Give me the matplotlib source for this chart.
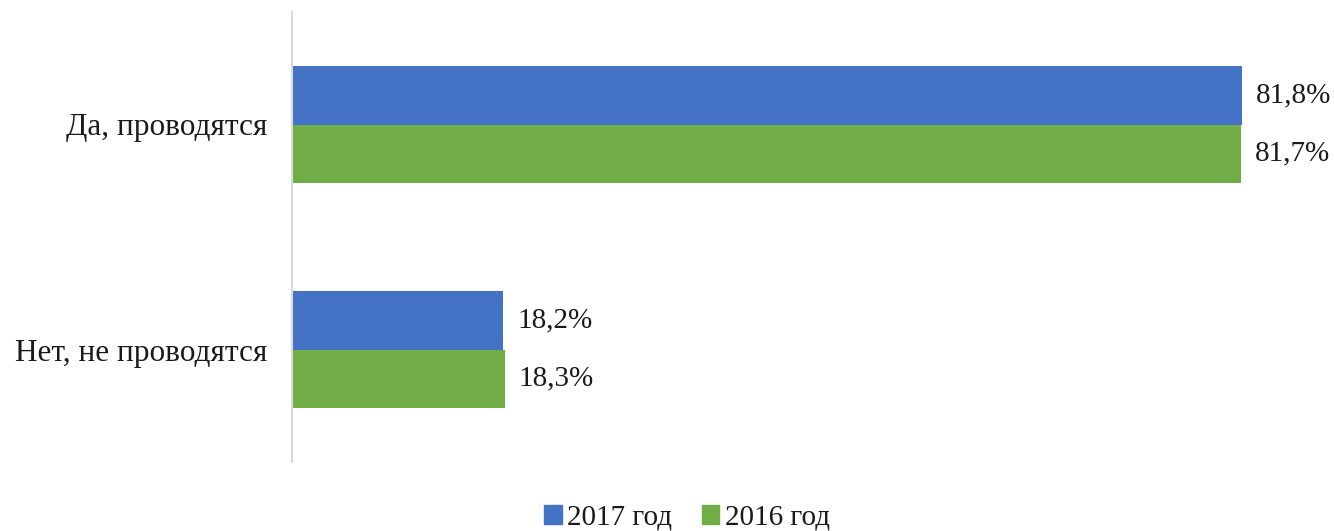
import matplotlib
matplotlib.use("Agg")
import matplotlib.pyplot as plt
import numpy as np
from matplotlib.patches import Patch

categories = ["Да, проводятся", "Нет, не проводятся"]
series_names = ["2017 год", "2016 год"]
values_2017 = [81.8, 18.2]
values_2016 = [81.7, 18.3]
labels_2017 = ["81,8%", "18,2%"]
labels_2016 = ["81,7%", "18,3%"]
colors = ["#4472C4", "#70AD47"]

plt.rcParams['font.family'] = ['Liberation Serif', 'DejaVu Serif']
FS = 21

fig = plt.figure(figsize=(13.34, 5.31), dpi=100)
W, H = 1334, 531
ax = fig.add_axes([292 / W, 1 - 462 / H, (1320 - 292) / W, (462 - 12) / H])

y = np.arange(len(categories))
h = 0.26
b1 = ax.barh(y - h / 2, values_2017, height=h, color=colors[0], label=series_names[0])
b2 = ax.barh(y + h / 2, values_2016, height=h, color=colors[1], label=series_names[1])

for bars, labs in ((b1, labels_2017), (b2, labels_2016)):
    for bar, lab in zip(bars, labs):
        ax.text(bar.get_width() + 1.2, bar.get_y() + bar.get_height() / 2, lab,
                va='center', ha='left', fontsize=FS, color='#1a1a1a')

ax.set_xlim(0, 88.5)
ax.set_ylim(1.5, -0.5)
ax.set_yticks(y)
ax.set_yticklabels(categories, fontsize=22.5, color='#1a1a1a')
ax.tick_params(axis='y', length=0, pad=18)
ax.set_xticks([])
for s in ('top', 'right', 'bottom'):
    ax.spines[s].set_visible(False)
ax.spines['left'].set_color('#D9D9D9')
ax.spines['left'].set_linewidth(1.5)

handles = [Patch(color=c, label=n) for c, n in zip(colors, series_names)]
fig.legend(handles=handles, loc='center', bbox_to_anchor=(687 / W, 1 - 518 / H),
           ncol=2, frameon=False, fontsize=FS, handlelength=0.6, handleheight=0.6,
           handletextpad=0.2, columnspacing=1.0, labelcolor='#1a1a1a')

fig.savefig("out.png", dpi=100)
